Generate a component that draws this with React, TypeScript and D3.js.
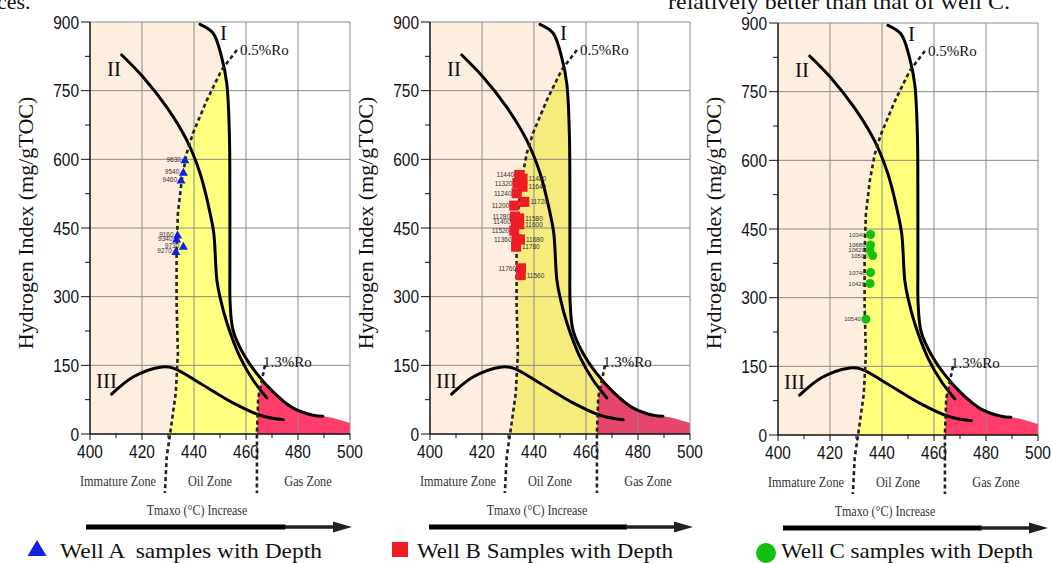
import React from "react";
import * as d3 from "d3";

type Pt = [number, number];

// ---- Kerogen type curves (Tmax °C, HI mg/gTOC) ----
const curveI: Pt[] = [
  [442.3, 895], [447.3, 876], [450.6, 824], [452.6, 766], [453.6, 657], [453.8, 511],
  [453.8, 358], [453.9, 286], [455, 227], [458.8, 177], [464, 133], [470.4, 92],
  [478, 57], [485.8, 41], [489.6, 39],
];
const curveII: Pt[] = [
  [412.2, 828], [420.4, 780], [429.5, 714], [437.2, 642], [442.3, 570], [446.2, 482],
  [447.6, 439], [448.8, 336], [450, 299], [452.7, 242], [457.7, 168], [462.7, 118], [468, 79],
];
const curveIII: Pt[] = [
  [408.3, 87], [416.7, 125], [427, 146], [432, 144], [442.3, 111], [455, 68], [465.4, 41], [474.3, 31],
];
const ro05Line: Pt[] = [
  [456.5, 839], [450.6, 795], [445, 730], [439.6, 657], [437.2, 613], [435.3, 555], [433.8, 482],
  [433.3, 395], [433.3, 286], [433.8, 177], [433, 90], [431.4, 24], [429.5, -50], [428.8, -129],
];
const ro13Line: Pt[] = [[467.3, 150], [464.7, 80], [464.2, 0], [464.2, -129]];
const gasTail: Pt[] = [[493.5, 35], [500, 24]];

const xTicks = [400, 420, 440, 460, 480, 500];
const xMinorTicks = [410, 430, 450, 470, 490];
const yTicks = [0, 150, 300, 450, 600, 750, 900];
const yMinorTicks = [75, 225, 375, 525, 675, 825];

const curveLabelText = ["I", "II", "III", "0.5%Ro", "1.3%Ro"];
const curveLabelT = [450, 406.5, 402.3, 457.7, 466.5];
const curveLabelHI = [861, 782, 100, 828, 146];

const zoneLabels = ["Immature Zone", "Oil Zone", "Gas Zone"];
const axisTitle = "Hydrogen Index (mg/gTOC)";
const arrowTitle = "Tmaxo (°C) Increase";

// ---- Well A ----
const wellADepth = ["9630", "9540", "9460", "9160", "9340", "9730", "9270"];
const wellATmax = [436.5, 435.9, 435, 433.7, 433.3, 435.9, 433];
const wellAHI = [600, 573, 556, 436, 427, 411, 400];

// ---- Well B ----
const wellBDepth = ["11440", "11480", "11320", "11640", "11240", "11720", "11200", "11280", "11580",
  "11400", "11600", "11520", "11360", "11680", "11780", "11760", "11560"];
const wellBTmax = [434.3, 435.6, 433.6, 435.6, 433.3, 436.3, 432.4, 432.7, 434.3, 433, 434.3, 432.4,
  433.3, 434.6, 433.1, 435, 434.9];
const wellBHI = [566, 558, 548, 540, 526, 507, 499, 475, 471, 464, 458, 444, 425, 425, 409, 362, 347];
const wellBSide = ["L", "R", "L", "R", "L", "R", "L", "L", "R", "L", "R", "L", "L", "R", "R", "L", "R"];

// ---- Well C ----
const wellCDepth = ["10340", "10680", "10620", "10500", "10740", "10420", "10540"];
const wellCTmax = [435.6, 435.6, 435.4, 436.4, 435.6, 435.4, 433.8];
const wellCHI = [438, 415, 404, 392, 355, 331, 253];

const legendText = ["Well A  samples with Depth", "Well B Samples with Depth", "Well C samples with Depth"];

// ---- geometry helpers (data space) ----
function xAt(c: Pt[], h: number): number {
  if (h >= c[0][1]) return c[0][0];
  for (let i = 0; i < c.length - 1; i++) {
    const [x0, h0] = c[i];
    const [x1, h1] = c[i + 1];
    if (h <= h0 && h >= h1) {
      const t = h0 === h1 ? 0 : (h0 - h) / (h0 - h1);
      return x0 + t * (x1 - x0);
    }
  }
  return c[c.length - 1][0];
}
function cross(c1: Pt[], c2: Pt[], lo: number, hi: number): number {
  let flo = xAt(c1, lo) - xAt(c2, lo);
  for (let k = 0; k < 60; k++) {
    const m = (lo + hi) / 2;
    const fm = xAt(c1, m) - xAt(c2, m);
    if (fm > 0 === flo > 0) { lo = m; flo = fm; } else hi = m;
  }
  return (lo + hi) / 2;
}
function slice(c: Pt[], hTop: number, hBot: number): Pt[] {
  const out: Pt[] = [[xAt(c, hTop), hTop]];
  c.forEach((p) => { if (p[1] < hTop && p[1] > hBot) out.push(p); });
  out.push([xAt(c, hBot), hBot]);
  return out;
}

const hA = cross(curveI, ro05Line, 700, 839);
const hB = cross(curveI, ro13Line, 80, 150);

const peachPoly: Pt[] = [
  [400, 0], [400, 900], [curveI[0][0], 900],
  ...slice(curveI, curveI[0][1], hA), ...slice(ro05Line, hA, 0),
];
const yellowPoly: Pt[] = [
  ...slice(curveI, hA, hB), ...slice(ro13Line, hB, 0), ...slice(ro05Line, hA, 0).reverse(),
];
const redPoly: Pt[] = [
  [xAt(curveI, hB), hB],
  ...curveI.filter((p) => p[1] < hB),
  ...gasTail,
  [500, 0],
  ...slice(ro13Line, hB, 0).reverse(),
];

const panels = [
  { left: 90, top: 22, bottom: 434, yellow: "#ffff80", red: "#ff3d69", arrow0: 86, arrow1: 352, kind: "A",
    legMarkX: 37, legTextX: 60, legW: 262 },
  { left: 430, top: 22, bottom: 434, yellow: "#f6ec7e", red: "#e6466c", arrow0: 429, arrow1: 693, kind: "B",
    legMarkX: 400, legTextX: 417, legW: 256 },
  { left: 778, top: 23, bottom: 435, yellow: "#ffff7c", red: "#ff3f6a", arrow0: 783, arrow1: 1048, kind: "C",
    legMarkX: 766, legTextX: 781, legW: 252 },
];

const SERIF = "'Liberation Serif', 'Times New Roman', serif";
const SANS = "'Liberation Sans', Arial, sans-serif";

function Panel({ cfg }: { cfg: typeof panels[number] }) {
  const x = d3.scaleLinear().domain([400, 500]).range([cfg.left, cfg.left + 260]);
  const y = d3.scaleLinear().domain([0, 900]).range([cfg.bottom, cfg.top]);
  const smooth = d3.line<Pt>().x((d) => x(d[0])).y((d) => y(d[1])).curve(d3.curveCatmullRom.alpha(0.5));
  const lin = d3.line<Pt>().x((d) => x(d[0])).y((d) => y(d[1]));
  const poly = (p: Pt[]) => (lin(p) || "") + "Z";
  const x0 = x(400), x1 = x(500), y0 = y(0), y1 = y(900);

  let markers: React.ReactNode[] = [];
  if (cfg.kind === "A") {
    markers = wellADepth.map((d, i) => {
      const cx = x(wellATmax[i]), cy = y(wellAHI[i]);
      return (
        <g key={d}>
          <path d={`M${cx - 4.5},${cy + 4}L${cx + 4.5},${cy + 4}L${cx},${cy - 4}Z`} fill="#1020e0" />
          <text x={cx - 4} y={cy + 2.5} fontSize={6.5} fontFamily={SANS} textAnchor="end" fill="#333">{d}</text>
        </g>
      );
    });
  } else if (cfg.kind === "B") {
    markers = wellBDepth.map((d, i) => {
      const cx = x(wellBTmax[i]), cy = y(wellBHI[i]);
      const left = wellBSide[i] === "L";
      return (
        <g key={d + i}>
          <rect x={cx - 5} y={cy - 5} width={10} height={10} fill="#ee1c25" />
          <text x={left ? cx - 5 : cx + 6} y={cy + 2.5} fontSize={6.5} fontFamily={SANS}
            textAnchor={left ? "end" : "start"} fill="#333">{d}</text>
        </g>
      );
    });
  } else {
    markers = wellCDepth.map((d, i) => {
      const cx = x(wellCTmax[i]), cy = y(wellCHI[i]);
      return (
        <g key={d}>
          <circle cx={cx} cy={cy} r={4.5} fill="#12c012" />
          <text x={cx - 5} y={cy + 2.2} fontSize={6} fontFamily={SANS} textAnchor="end" fill="#333">{d}</text>
        </g>
      );
    });
  }

  const ay = cfg.bottom + 93;
  const headBase = cfg.arrow1 - 19;
  const thickEnd = cfg.arrow0 + (cfg.arrow1 - cfg.arrow0) * 0.75;

  let legendMark: React.ReactNode;
  if (cfg.kind === "A") legendMark = <path d={`M${cfg.legMarkX - 9.5},556L${cfg.legMarkX + 9.5},556L${cfg.legMarkX},540Z`} fill="#1020e0" />;
  else if (cfg.kind === "B") legendMark = <rect x={cfg.legMarkX - 8} y={542} width={16} height={15} fill="#ee1c25" />;
  else legendMark = <circle cx={cfg.legMarkX} cy={553} r={10} fill="#12c012" />;

  return (
    <g>
      {/* fills */}
      <path d={poly(peachPoly)} fill="#fdeee0" />
      <path d={poly(yellowPoly)} fill={cfg.yellow} />
      <path d={poly(redPoly)} fill={cfg.red} />
      {/* grid */}
      {xTicks.slice(1).map((t) => (
        <line key={"gx" + t} x1={x(t)} x2={x(t)} y1={y1} y2={y0} stroke="#8a8a8a" strokeWidth={1} />
      ))}
      {yTicks.slice(1).map((t) => (
        <line key={"gy" + t} x1={x0} x2={x1} y1={y(t)} y2={y(t)} stroke="#8a8a8a" strokeWidth={1} />
      ))}
      {/* axes */}
      <line x1={x0} x2={x0} y1={y1} y2={y0} stroke="#111" strokeWidth={1.5} />
      <line x1={x0} x2={x1} y1={y0} y2={y0} stroke="#111" strokeWidth={1.5} />
      {yTicks.map((t) => (
        <g key={"yt" + t}>
          <line x1={x0 - 9} x2={x0} y1={y(t)} y2={y(t)} stroke="#111" strokeWidth={1} />
          <text transform={`translate(${x0 - 11},${y(t) + 6.5}) scale(0.86,1)`} textAnchor="end" fontSize={18}
            fontFamily={SANS} fill="#111">{t}</text>
        </g>
      ))}
      {yMinorTicks.map((t) => (
        <line key={"ym" + t} x1={x0 - 5} x2={x0} y1={y(t)} y2={y(t)} stroke="#111" strokeWidth={1} />
      ))}
      {xTicks.map((t) => (
        <g key={"xt" + t}>
          <line x1={x(t)} x2={x(t)} y1={y0} y2={y0 + 6} stroke="#111" strokeWidth={1} />
          <text transform={`translate(${x(t)},${y0 + 24}) scale(0.86,1)`} textAnchor="middle" fontSize={18}
            fontFamily={SANS} fill="#111">{t}</text>
        </g>
      ))}
      {xMinorTicks.map((t) => (
        <line key={"xm" + t} x1={x(t)} x2={x(t)} y1={y0} y2={y0 + 4} stroke="#111" strokeWidth={1} />
      ))}
      {/* curves */}
      <path d={smooth(curveI) || ""} fill="none" stroke="#000" strokeWidth={3} strokeLinecap="round" />
      <path d={smooth(curveII) || ""} fill="none" stroke="#000" strokeWidth={3} strokeLinecap="round" />
      <path d={smooth(curveIII) || ""} fill="none" stroke="#000" strokeWidth={3} strokeLinecap="round" />
      <path d={lin(ro05Line) || ""} fill="none" stroke="#222" strokeWidth={2.6} strokeDasharray="4 3" />
      <path d={lin(ro13Line) || ""} fill="none" stroke="#222" strokeWidth={2.6} strokeDasharray="4 3" />
      {/* curve labels */}
      {curveLabelText.map((s, i) => (
        <text key={s} x={x(curveLabelT[i])} y={y(curveLabelHI[i])} fontFamily={SERIF}
          fontSize={i < 3 ? 21 : 15} fill="#111">{s}</text>
      ))}
      {markers}
      {/* axis title */}
      <text transform={`translate(${x0 - 65},223) rotate(-90)`} textAnchor="middle" dominantBaseline="central"
        fontFamily={SERIF} fontSize={22} fill="#111">{axisTitle}</text>
      {/* zone labels */}
      {zoneLabels.map((s, i) => (
        <text key={s} transform={`translate(${x0 + [28, 120, 218][i]},${y0 + 52}) scale(0.82,1)`} textAnchor="middle"
          fontFamily={SERIF} fontSize={15} fill="#333">{s}</text>
      ))}
      <text transform={`translate(${x0 + 107},${y0 + 81}) scale(0.8,1)`} textAnchor="middle"
        fontFamily={SERIF} fontSize={15} fill="#333">{arrowTitle}</text>
      {/* arrow */}
      <line x1={cfg.arrow0} x2={thickEnd} y1={ay} y2={ay} stroke="#000" strokeWidth={5} />
      <line x1={thickEnd - 1} x2={headBase + 1} y1={ay} y2={ay} stroke="#222" strokeWidth={3.5} />
      <path d={`M${headBase},${ay - 5.5}L${cfg.arrow1},${ay}L${headBase},${ay + 5.5}Z`} fill="#222" />
      {/* legend */}
      {legendMark}
      <text x={cfg.legTextX} y={558} fontFamily={SERIF} fontSize={22} fill="#111" textLength={cfg.legW}
        lengthAdjust="spacingAndGlyphs" style={{ whiteSpace: "pre" }}>
        {legendText[["A", "B", "C"].indexOf(cfg.kind)]}
      </text>
    </g>
  );
}

export default function App() {
  return (
    <svg width={1052} height={563} viewBox="0 0 1052 563"
      style={{ position: "absolute", left: 0, top: 0, background: "#fff" }}>
      <rect x={0} y={0} width={1052} height={563} fill="#fff" />
      <text x={-3} y={9} fontFamily={SERIF} fontSize={22} fill="#111">ces.</text>
      <text x={668} y={9} fontFamily={SERIF} fontSize={22} fill="#111" textLength={342}
        lengthAdjust="spacingAndGlyphs">relatively better than that of well C.</text>
      {panels.map((p) => <Panel key={p.kind} cfg={p} />)}
    </svg>
  );
}
